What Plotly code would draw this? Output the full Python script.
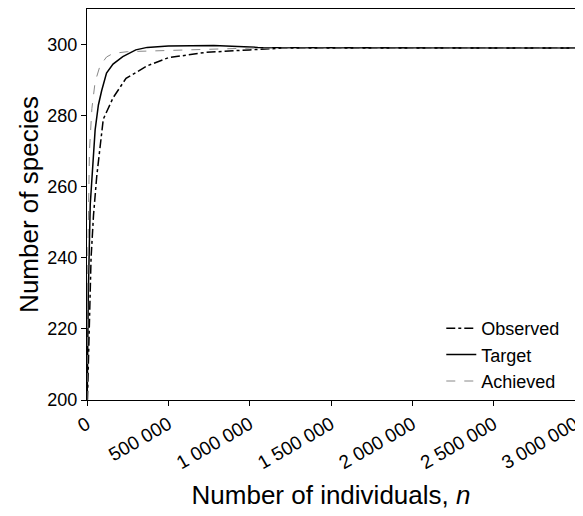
import plotly.graph_objects as go

# Observed curve
obs_n = [0, 10000, 25000, 40000, 60000, 100000, 160000, 240000, 370000, 500000, 730000, 1000000, 1200000, 3000000]
obs_s = [195, 215, 240, 252, 263, 279, 285, 290.5, 294, 296.3, 297.8, 298.5, 299, 299]

# Target curve
tgt_n = [0, 8000, 20000, 30000, 50000, 70000, 90000, 120000, 160000, 220000, 300000, 370000, 500000, 780000, 1050000, 1600000, 3000000]
tgt_s = [195, 230, 255, 262, 276, 283, 287, 292, 294.5, 296.6, 298.5, 299.2, 299.6, 299.7, 299.2, 299.1, 299]

# Achieved curve
ach_n = [0, 5000, 15000, 30000, 50000, 80000, 120000, 160000, 250000, 400000, 700000, 1000000, 3000000]
ach_s = [200, 240, 270, 282, 289.5, 294, 296.5, 297.5, 298, 298.2, 298.5, 299, 299]

x_tickvals = [0, 500000, 1000000, 1500000, 2000000, 2500000, 3000000]
x_ticktext = ["0", "500 000", "1 000 000", "1 500 000", "2 000 000", "2 500 000", "3 000 000"]
y_tickvals = [200, 220, 240, 260, 280, 300]

font = "Liberation Sans, Arial, sans-serif"

fig = go.Figure()
fig.add_trace(go.Scatter(x=obs_n, y=obs_s, mode="lines", name="Observed",
                         line=dict(color="black", width=1.5, dash="dashdot")))
fig.add_trace(go.Scatter(x=tgt_n, y=tgt_s, mode="lines", name="Target",
                         line=dict(color="black", width=1.5)))
fig.add_trace(go.Scatter(x=ach_n, y=ach_s, mode="lines", name="Achieved",
                         line=dict(color="#888888", width=1, dash="dash")))

fig.update_layout(
    width=575, height=508,
    margin=dict(l=79, r=8, t=1, b=116),
    paper_bgcolor="white", plot_bgcolor="white",
    font=dict(family=font, color="black", size=18),
    showlegend=True,
    legend=dict(x=0.726, y=0.0, xanchor="left", yanchor="bottom",
                bgcolor="rgba(0,0,0,0)", font=dict(size=18), itemwidth=30,
                tracegroupgap=0),
    xaxis=dict(range=[0, 3000000], tickvals=x_tickvals, ticktext=x_ticktext,
               tickangle=-30, showgrid=False, zeroline=False, automargin=False,
               showline=True, linecolor="black", linewidth=1, mirror=True,
               ticks="outside", ticklen=5, tickcolor="black",
               tickfont=dict(size=19),
               title=dict(text="Number of individuals, <i>n</i>", font=dict(size=26), standoff=13)),
    yaxis=dict(range=[200, 310], tickvals=y_tickvals, showgrid=False, zeroline=False,
               automargin=False,
               showline=True, linecolor="black", linewidth=1, mirror=True,
               ticks="outside", ticklen=5, tickcolor="black",
               title=dict(text="Number of species", font=dict(size=26), standoff=1)),
)

fig.write_html("out.html")
